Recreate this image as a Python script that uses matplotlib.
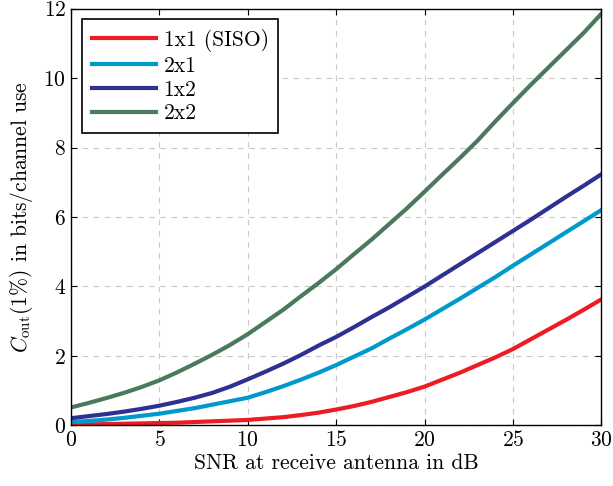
import numpy as np
import matplotlib
matplotlib.use("Agg")
import matplotlib.pyplot as plt

plt.rcParams["font.family"] = "serif"
plt.rcParams["font.serif"] = ["cmr10", "DejaVu Serif"]
plt.rcParams["mathtext.fontset"] = "cm"
plt.rcParams["axes.formatter.use_mathtext"] = True

snr_db = list(range(0, 31))

siso = [0.02, 0.03, 0.04, 0.05, 0.06, 0.07, 0.08, 0.10, 0.12, 0.14, 0.16,
        0.20, 0.24, 0.30, 0.37, 0.46, 0.56, 0.68, 0.82, 0.96, 1.12,
        1.32, 1.52, 1.74, 1.96, 2.20, 2.48, 2.76, 3.04, 3.33, 3.63]
miso_2x1 = [0.10, 0.13, 0.17, 0.22, 0.28, 0.34, 0.42, 0.50, 0.60, 0.70, 0.80,
            0.96, 1.13, 1.32, 1.52, 1.74, 1.98, 2.22, 2.50, 2.77, 3.05,
            3.35, 3.65, 3.96, 4.27, 4.60, 4.92, 5.24, 5.56, 5.88, 6.20]
simo_1x2 = [0.21, 0.27, 0.33, 0.40, 0.48, 0.57, 0.68, 0.80, 0.94, 1.12, 1.33,
            1.55, 1.78, 2.03, 2.30, 2.55, 2.83, 3.12, 3.40, 3.70, 4.00,
            4.32, 4.64, 4.96, 5.28, 5.60, 5.92, 6.25, 6.58, 6.90, 7.23]
mimo_2x2 = [0.52, 0.65, 0.79, 0.94, 1.11, 1.30, 1.53, 1.78, 2.04, 2.32, 2.63,
            2.98, 3.33, 3.72, 4.10, 4.50, 4.93, 5.35, 5.80, 6.25, 6.73,
            7.22, 7.70, 8.20, 8.75, 9.28, 9.80, 10.30, 10.80, 11.30, 11.85]

fig = plt.figure(figsize=(6.13, 4.86), dpi=100)
ax = fig.add_axes([0.116, 0.1245, 0.865, 0.858])

ax.plot(snr_db, siso, color="#ED1C24", lw=3, label="1x1 (SISO)")
ax.plot(snr_db, miso_2x1, color="#0099CC", lw=3, label="2x1")
ax.plot(snr_db, simo_1x2, color="#2E3192", lw=3, label="1x2")
ax.plot(snr_db, mimo_2x2, color="#4A7A5C", lw=3, label="2x2")

ax.set_xlim(0, 30)
ax.set_ylim(0, 12)
ax.set_xticks(range(0, 31, 5))
ax.set_yticks(range(0, 13, 2))
ax.grid(True, color="#c8c8c8", linestyle=(0, (5, 5)), linewidth=0.8)
ax.tick_params(direction="in", top=True, right=True, labelsize=15.5, length=4)
for s in ax.spines.values():
    s.set_linewidth(1.0)

ax.set_xlabel("SNR at receive antenna in dB", fontsize=15.5, labelpad=2)
ax.set_ylabel(r"$C_{\mathrm{out}}(1\%)$ in bits/channel use", fontsize=15.5, labelpad=6)

leg = ax.legend(loc="upper left", fontsize=15.5, fancybox=False, framealpha=1,
                edgecolor="black", handlelength=3.0, handletextpad=0.35,
                labelspacing=0.2, borderaxespad=0.5, borderpad=0.45)
leg.get_frame().set_linewidth(1.2)

fig.savefig("out.png", dpi=100)
